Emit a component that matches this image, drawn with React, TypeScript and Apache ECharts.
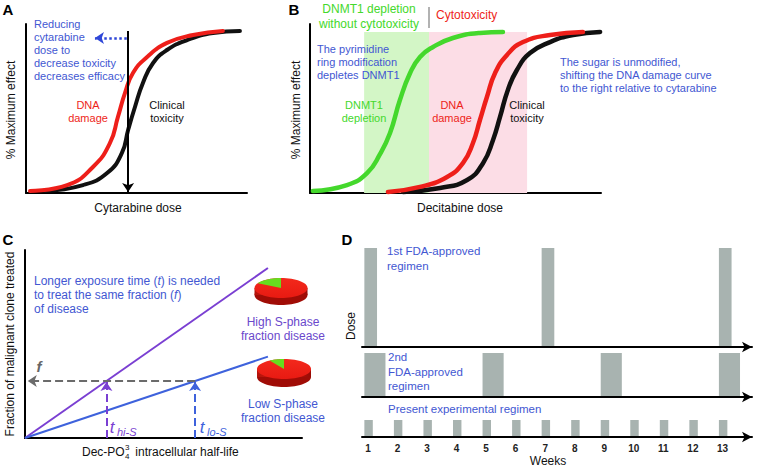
import React, { useEffect, useRef } from "react";
import * as echarts from "echarts";

// ---------- Panel A : cytarabine (dose 0-100, effect 0-100) ----------
const cytarabineDnaDamage = [[1.8, 1.2], [18.6, 4.7], [30.3, 15.4], [38, 29.6], [41.6, 45], [44.8, 59.2], [48.4, 71], [54.8, 80.5], [63.8, 88.8], [75.6, 93.5], [89.1, 95.9]];
const cytarabineToxicity = [[8.6, 1.2], [25.8, 4.7], [36.7, 11.8], [43.4, 23.7], [46.2, 37.3], [49.3, 50.9], [52.9, 65.1], [57.5, 76.9], [63.8, 84.6], [72.9, 90.5], [84.6, 94.7], [96.8, 95.9]];
const cytarabineClinicalDose = 46.2;
const reducedDose = 31.2;
const arrowLevel = 91.7;
const curveTop = 95.9;

// ---------- Panel B : decitabine ----------
const decitabineDnmt1 = [[1, 1.2], [12.7, 4.7], [19.6, 11.8], [24.1, 23.1], [27.5, 35.5], [30.9, 55], [34.4, 71], [37.8, 80.5], [42.3, 86.4], [49.1, 91.7], [58.4, 94.7], [66.3, 95.3]];
const decitabineDnaDamage = [[26.8, 0.6], [37.8, 3.6], [47.1, 9.5], [52.6, 17.8], [56, 29.6], [58.4, 43.2], [60.8, 56.8], [63.6, 71], [67.7, 81.7], [73.2, 89.3], [82.5, 93.5], [93.8, 95.3]];
const decitabineToxicity = [[32, 0.6], [44.7, 3], [54, 7.7], [59.5, 17.8], [62.9, 31.4], [65.3, 45], [68, 61], [71.1, 72.8], [75.6, 82.8], [82.5, 89.3], [90.4, 93.5], [99.7, 95.3]];
const dnmt1Band = [18.6, 40.9];
const cytotoxicBand = [40.9, 74.6];
const bandTop = 95.3;

// ---------- Panel C : half-life vs fraction treated ----------
const highSPhaseLine = [[0, 0], [87.7, 90.4]];
const lowSPhaseLine = [[0, 0], [87.7, 43.3]];
const fractionLevel = 30.3;
const tHighS = 29.4;
const tLowS = 61.4;
const highSPhaseFraction = 0.17;
const lowSPhaseFraction = 0.09;

// ---------- Panel D : regimens ----------
const weekTicks = [1, 2, 3, 4, 5, 6, 7, 8, 9, 10, 11, 12, 13];
const regimen1Weeks = [1, 7, 13];
const regimen1Days = 3;
const regimen2Weeks = [1, 5, 9, 13];
const regimen2Days = 5;
const regimen3Weeks = [1, 2, 3, 4, 5, 6, 7, 8, 9, 10, 11, 12, 13];
const regimen3Days = 2;

const FONT = '"Liberation Sans", Arial, Helvetica, sans-serif';
const BLUE = "#4257d2";
const RED = "#ee1f1a";
const GREEN = "#44d82c";
const PURPLE = "#7a3fd2";
const LBLUE = "#3e62dc";
const BAR = "#a8b3b0";

function txt(x: number, y: number, text: string, fill: string, opts: any = {}) {
  return {
    type: "text",
    x,
    y,
    rotation: opts.rotation || 0,
    silent: true,
    z: 10,
    style: {
      text,
      fill,
      font: `${opts.style || "normal"} ${opts.weight || "normal"} ${opts.size || 11}px ${FONT}`,
      textAlign: opts.align || "left",
      textVerticalAlign: opts.valign || "top",
      lineHeight: opts.lh || 13,
      rich: opts.rich,
    },
  };
}

function pie3d(cx: number, cy: number, rx: number, ry: number, depth: number, frac: number) {
  // wedge of the S-phase fraction, from 12 o'clock towards the upper left
  const a0 = -Math.PI / 2 - frac * 2 * Math.PI;
  const a1 = -Math.PI / 2;
  const pts: number[][] = [[cx, cy]];
  const n = 24;
  for (let i = 0; i <= n; i++) {
    const a = a0 + ((a1 - a0) * i) / n;
    pts.push([cx + rx * Math.cos(a), cy + ry * Math.sin(a)]);
  }
  return {
    type: "group",
    silent: true,
    z: 10,
    children: [
      { type: "ellipse", shape: { cx, cy: cy + depth, rx, ry }, style: { fill: "#a00c06" } },
      {
        type: "rect",
        shape: { x: cx - rx, y: cy, width: 2 * rx, height: depth },
        style: {
          fill: {
            type: "linear", x: 0, y: 0, x2: 1, y2: 0,
            colorStops: [
              { offset: 0, color: "#b4140b" },
              { offset: 0.5, color: "#d81a10" },
              { offset: 1, color: "#980b05" },
            ],
          },
        },
      },
      {
        type: "ellipse",
        shape: { cx, cy, rx, ry },
        style: {
          fill: {
            type: "linear", x: 0, y: 0, x2: 0, y2: 1,
            colorStops: [
              { offset: 0, color: "#f3291c" },
              { offset: 1, color: "#e81a12" },
            ],
          },
        },
      },
      { type: "polygon", shape: { points: pts }, style: { fill: "#66dd1e" } },
    ],
  };
}

function plainAxis(gridIndex: number, show: boolean, extra: any = {}) {
  return {
    type: "value",
    gridIndex,
    min: 0,
    max: 100,
    axisLine: { show, onZero: false, lineStyle: { color: "#000", width: 2 } },
    axisTick: { show: false },
    axisLabel: { show: false },
    splitLine: { show: false },
    ...extra,
  };
}

function weekAxis(gridIndex: number, labels: boolean) {
  return {
    type: "value",
    gridIndex,
    min: 0.8,
    max: 14,
    axisLine: { show: true, onZero: false, symbol: ["none", "arrow"], symbolSize: [8, 10], lineStyle: { color: "#000", width: 2 } },
    axisTick: { show: false },
    splitLine: { show: false },
    axisLabel: labels
      ? { show: true, customValues: weekTicks, margin: 6, color: "#222", fontWeight: "bold", fontSize: 10, fontFamily: FONT }
      : { show: false },
  };
}

const renderDose = (params: any, api: any) => {
  const start = api.value(0) - 0.12;
  const end = start + api.value(1) / 7;
  const p0 = api.coord([start, api.value(2)]);
  const p1 = api.coord([end, 0]);
  return {
    type: "rect",
    shape: { x: p0[0], y: p0[1], width: p1[0] - p0[0], height: p1[1] - p0[1] - 1 },
    style: { fill: BAR },
  };
};

function curve(data: number[][], color: string, xi: number, width = 4, extra: any = {}) {
  return {
    type: "line",
    xAxisIndex: xi,
    yAxisIndex: xi,
    data,
    smooth: 0.5,
    showSymbol: false,
    symbol: "none",
    clip: false,
    silent: true,
    lineStyle: { color, width, cap: "round" },
    ...extra,
  };
}

function arrowLine(from: number[], to: number[], color: string, type: string, width = 2) {
  return {
    silent: true,
    symbol: ["none", "arrow"],
    symbolSize: [9, 9],
    label: { show: false },
    lineStyle: { color, width, type },
    data: [[{ coord: from }, { coord: to }]],
  };
}

export default function App() {
  const ref = useRef<HTMLDivElement>(null);
  useEffect(() => {
    if (!ref.current) return;
    const chart = echarts.init(ref.current, null, { renderer: "svg" });
    const option: any = {
      animation: false,
      backgroundColor: "#fff",
      grid: [
        { left: 26, top: 24, width: 221, height: 169 },
        { left: 310, top: 24, width: 291, height: 169 },
        { left: 25, top: 250, width: 277, height: 188 },
        { left: 362, top: 248, width: 390, height: 99 },
        { left: 362, top: 353, width: 390, height: 44 },
        { left: 362, top: 420, width: 390, height: 17 },
      ],
      xAxis: [
        plainAxis(0, true),
        plainAxis(1, true),
        plainAxis(2, true),
        weekAxis(3, false),
        weekAxis(4, false),
        weekAxis(5, true),
      ],
      yAxis: [
        plainAxis(0, true),
        plainAxis(1, true),
        plainAxis(2, true),
        { ...plainAxis(3, false), max: 1 },
        { ...plainAxis(4, false), max: 1 },
        { ...plainAxis(5, false), max: 1 },
      ],
      series: [
        // Panel A
        curve(cytarabineToxicity, "#111", 0, 4),
        curve(cytarabineDnaDamage, RED, 0, 4, {
          markLine: arrowLine([cytarabineClinicalDose, curveTop], [cytarabineClinicalDose, 0.6], "#000", "solid", 2),
        }),
        {
          type: "line",
          xAxisIndex: 0,
          yAxisIndex: 0,
          data: [],
          markLine: arrowLine([cytarabineClinicalDose - 0.6, arrowLevel], [reducedDose, arrowLevel], "#2f47d8", "dotted", 2.5),
        },
        // Panel B
        curve(decitabineDnmt1, GREEN, 1, 4.5, {
          markArea: {
            silent: true,
            data: [
              [{ coord: [dnmt1Band[0], 0], itemStyle: { color: "#d3f6c6" } }, { coord: [dnmt1Band[1], bandTop] }],
              [{ coord: [cytotoxicBand[0], 0], itemStyle: { color: "#fcdde6" } }, { coord: [cytotoxicBand[1], bandTop] }],
            ],
          },
        }),
        curve(decitabineToxicity, "#111", 1, 4.5),
        curve(decitabineDnaDamage, RED, 1, 4.5),
        // Panel C
        {
          type: "line", xAxisIndex: 2, yAxisIndex: 2, data: highSPhaseLine, showSymbol: false, symbol: "none", silent: true,
          lineStyle: { color: PURPLE, width: 2 },
          markLine: arrowLine([tHighS, 0], [tHighS, fractionLevel - 0.5], PURPLE, "dashed", 2),
        },
        {
          type: "line", xAxisIndex: 2, yAxisIndex: 2, data: lowSPhaseLine, showSymbol: false, symbol: "none", silent: true,
          lineStyle: { color: LBLUE, width: 2 },
          markLine: arrowLine([tLowS, 0], [tLowS, fractionLevel - 0.5], LBLUE, "dashed", 2),
        },
        {
          type: "line", xAxisIndex: 2, yAxisIndex: 2, data: [],
          markLine: arrowLine([tLowS, fractionLevel], [1, fractionLevel], "#6b6b6b", "dashed", 2),
        },
        // Panel D
        {
          type: "custom", xAxisIndex: 3, yAxisIndex: 3, silent: true, renderItem: renderDose,
          data: regimen1Weeks.map((w) => [w, regimen1Days, 1]),
        },
        {
          type: "custom", xAxisIndex: 4, yAxisIndex: 4, silent: true, renderItem: renderDose,
          data: regimen2Weeks.map((w) => [w, regimen2Days, 1]),
        },
        {
          type: "custom", xAxisIndex: 5, yAxisIndex: 5, silent: true, renderItem: renderDose,
          data: regimen3Weeks.map((w) => [w, regimen3Days, 1]),
        },
      ],
      graphic: [
        // panel letters
        txt(8, 9, "A", "#000", { size: 15, weight: "bold", align: "center", valign: "middle" }),
        txt(294, 9, "B", "#000", { size: 15, weight: "bold", align: "center", valign: "middle" }),
        txt(8, 239, "C", "#000", { size: 15, weight: "bold", align: "center", valign: "middle" }),
        txt(347, 239, "D", "#000", { size: 15, weight: "bold", align: "center", valign: "middle" }),
        // Panel A
        txt(11, 110, "% Maximum effect", "#111", { size: 12, align: "center", valign: "middle", rotation: Math.PI / 2 }),
        txt(138, 208, "Cytarabine dose", "#111", { size: 12, align: "center", valign: "middle" }),
        txt(34, 18, "Reducing\ncytarabine\ndose to\ndecrease toxicity\ndecreases efficacy", BLUE, { size: 11, lh: 12.8 }),
        txt(88, 98.5, "DNA\ndamage", RED, { size: 11, align: "center" }),
        txt(167, 98.5, "Clinical\ntoxicity", "#111", { size: 11, align: "center" }),
        // Panel B
        txt(296, 110, "% Maximum effect", "#111", { size: 12, align: "center", valign: "middle", rotation: Math.PI / 2 }),
        txt(460, 208, "Decitabine dose", "#111", { size: 12, align: "center", valign: "middle" }),
        txt(369, 2, "DNMT1 depletion\nwithout cytotoxicity", GREEN, { size: 12, align: "center", lh: 14.5 }),
        { type: "line", silent: true, shape: { x1: 429, y1: 7, x2: 429, y2: 28 }, style: { stroke: "#999", lineWidth: 1.5 } },
        txt(436, 15, "Cytotoxicity", RED, { size: 12, valign: "middle" }),
        txt(317, 43, "The pyrimidine\nring modification\ndepletes DNMT1", BLUE, { size: 11, lh: 12.8 }),
        txt(364, 98, "DNMT1\ndepletion", GREEN, { size: 11, align: "center" }),
        txt(452, 98.5, "DNA\ndamage", RED, { size: 11, align: "center" }),
        txt(527, 98.5, "Clinical\ntoxicity", "#111", { size: 11, align: "center" }),
        txt(560, 56, "The sugar is unmodified,\nshifting the DNA damage curve\nto the right relative to cytarabine", BLUE, { size: 11, lh: 12.8 }),
        // Panel C
        txt(10, 344, "Fraction of malignant clone treated", "#111", { size: 12, align: "center", valign: "middle", rotation: Math.PI / 2 }),
        txt(34, 274, "{n|Longer exposure time (}{i|t}{n|) is needed}\n{n|to treat the same fraction (}{i|f}{n|)}\n{n|of disease}", BLUE, {
          size: 12, lh: 14,
          rich: {
            n: { fill: BLUE, font: `12px ${FONT}`, lineHeight: 14 },
            i: { fill: BLUE, font: `italic 12px ${FONT}`, lineHeight: 14 },
          },
        }),
        pie3d(281, 288, 26.5, 10, 7, highSPhaseFraction),
        pie3d(284, 369, 27, 10, 8, lowSPhaseFraction),
        txt(283, 315, "High S-phase\nfraction disease", "#6a48cc", { size: 12, align: "center", lh: 14 }),
        txt(283, 397, "Low S-phase\nfraction disease", BLUE, { size: 12, align: "center", lh: 14 }),
        txt(39, 366, "f", "#666", { size: 15, style: "italic", weight: "bold", align: "center", valign: "middle" }),
        txt(112, 427, "t", PURPLE, { size: 17, style: "italic", align: "center", valign: "middle" }),
        txt(117, 432, "hi-S", PURPLE, { size: 11, style: "italic", valign: "middle" }),
        txt(202, 427, "t", LBLUE, { size: 17, style: "italic", align: "center", valign: "middle" }),
        txt(207, 432, "lo-S", LBLUE, { size: 11, style: "italic", valign: "middle" }),
        txt(82, 452, "Dec-PO", "#111", { size: 12, valign: "middle" }),
        txt(125, 456, "4", "#111", { size: 8, valign: "middle" }),
        txt(125, 447, "3", "#111", { size: 8, valign: "middle" }),
        txt(132, 452, " intracellular half-life", "#111", { size: 12, valign: "middle" }),
        // Panel D
        txt(351, 326, "Dose", "#111", { size: 12, align: "center", valign: "middle", rotation: Math.PI / 2 }),
        txt(387, 244, "1st FDA-approved\nregimen", BLUE, { size: 11.5, lh: 14.5 }),
        txt(388, 350, "2nd\nFDA-approved\nregimen", BLUE, { size: 11.5, lh: 14.5 }),
        txt(388, 409, "Present experimental regimen", BLUE, { size: 11.5, valign: "middle" }),
        txt(548, 461, "Weeks", "#111", { size: 12, align: "center", valign: "middle" }),
      ],
    };
    chart.setOption(option);
    return () => chart.dispose();
  }, []);
  return <div ref={ref} style={{ position: "absolute", left: 0, top: 0, width: 761, height: 468 }} />;
}
